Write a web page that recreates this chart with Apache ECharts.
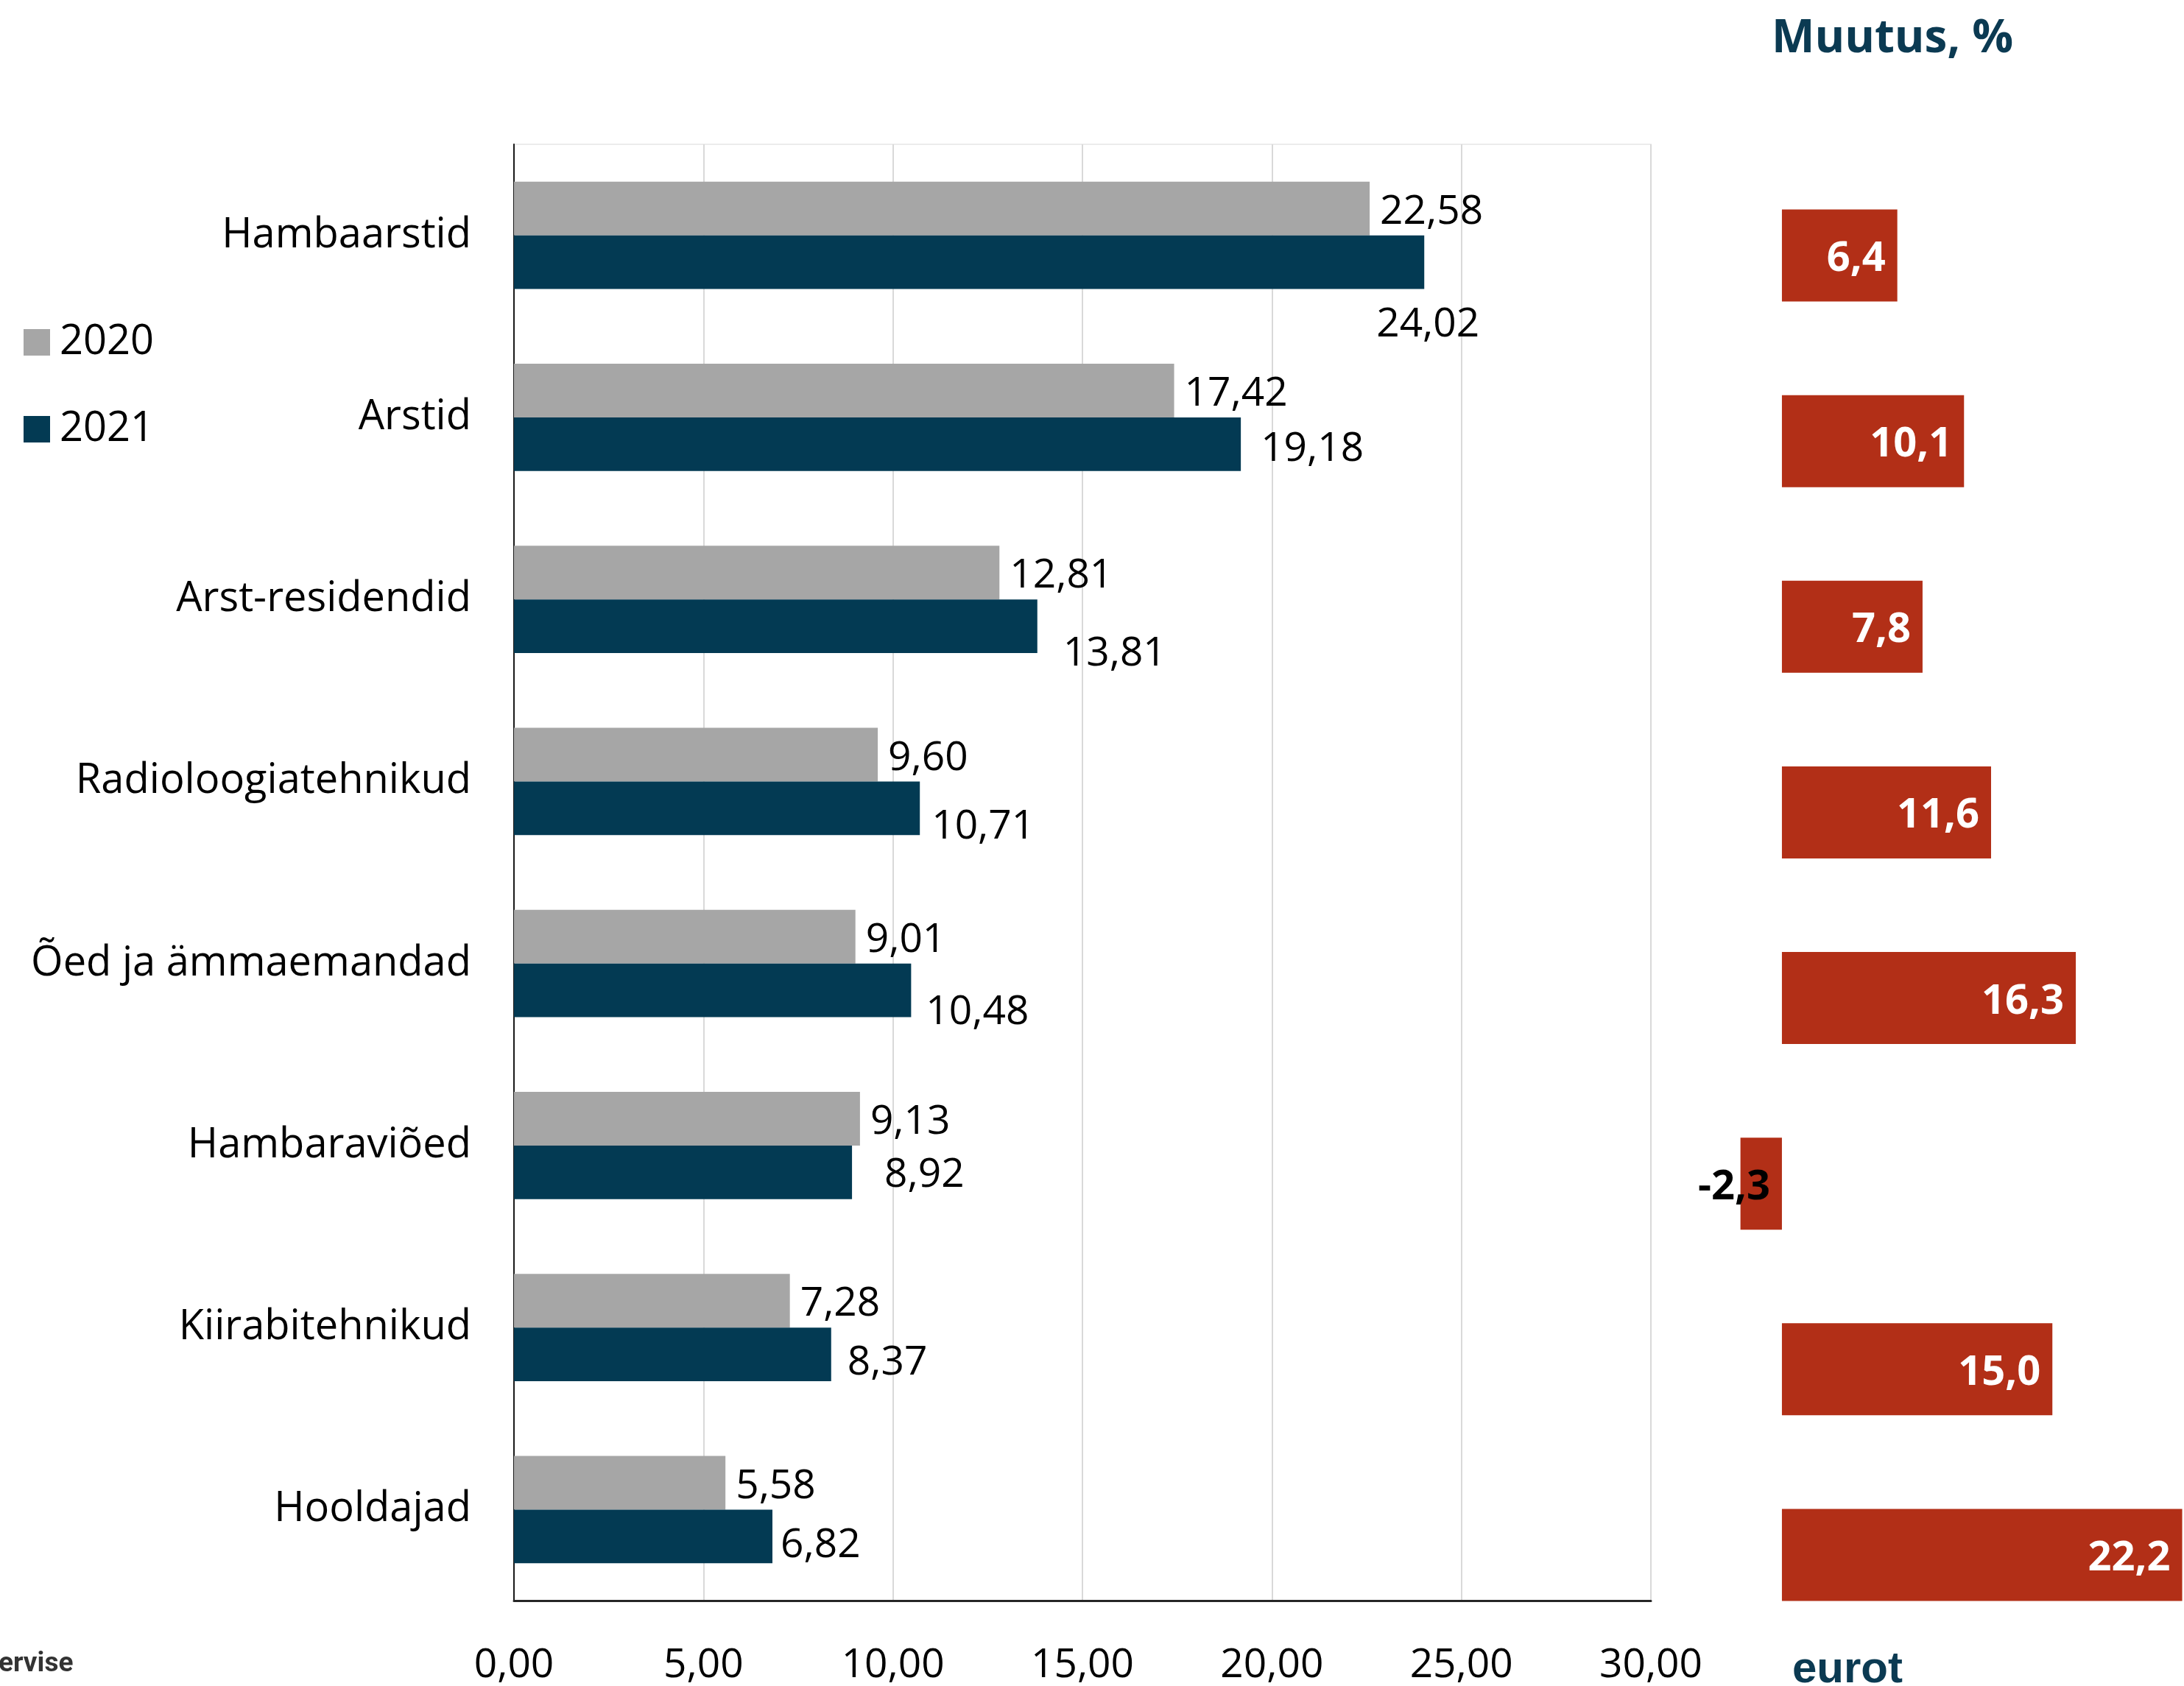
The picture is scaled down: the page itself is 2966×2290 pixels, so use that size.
<!DOCTYPE html>
<html>
<head>
<meta charset="utf-8">
<script src="https://cdn.jsdelivr.net/npm/echarts@6/dist/echarts.min.js"></script>
<style>
html,body{margin:0;padding:0;background:#fff;}
#chart{width:2966px;height:2290px;}
</style>
</head>
<body>
<div id="chart"></div>
<script>
// ---- data ----
const categories = ['Hambaarstid','Arstid','Arst-residendid','Radioloogiatehnikud','Õed ja ämmaemandad','Hambaraviõed','Kiirabitehnikud','Hooldajad'];
const seriesNames = ['2020','2021'];
const values2020 = [22.58,17.42,12.81,9.60,9.01,9.13,7.28,5.58];
const values2021 = [24.02,19.18,13.81,10.71,10.48,8.92,8.37,6.82];
const changePct = [6.4,10.1,7.8,11.6,16.3,-2.3,15.0,22.2];
const xTicks = {min:0, max:30, interval:5};

// ---- styling (label nudges for 2021 labels, px) ----
const labelNudge2021 = [[-79,85],[13,7],[21,38],[2,25],[6,30],[30,4],[8,12],[-3,12]];

const GRAY = '#a6a6a6', BLUE = '#033a53', RED = '#b22f17', TITLE = '#0b3a52';
const FONT = 'Open Sans';
const fmt2 = v => v.toFixed(2).replace('.', ',');
const fmt1 = v => v.toFixed(1).replace('.', ',');

const chart = echarts.init(document.getElementById('chart'), null, {renderer:'canvas'});
const option = {
  backgroundColor:'#ffffff',
  animation:false,
  textStyle:{fontFamily:FONT},
  title:[
    {text:'Muutus, %', left:2406, top:22, padding:0,
     textStyle:{fontFamily:FONT, fontWeight:'bold', fontSize:62, color:TITLE}},
    {text:'eurot', left:2434, top:2238, padding:0,
     textStyle:{fontFamily:'Liberation Sans', fontWeight:'bold', fontSize:60, color:TITLE}},
    {text:'ervise', left:-2, top:2242, padding:0,
     textStyle:{fontFamily:'Roboto', fontWeight:'bold', fontSize:37, color:'#333333'}}
  ],
  legend:{
    data:seriesNames, orient:'vertical', left:27, top:432,
    itemWidth:36, itemHeight:36, itemGap:62, icon:'rect',
    textStyle:{fontFamily:FONT, fontSize:56, color:'#000', padding:[0,0,0,8]}
  },
  grid:[
    {left:698, right:724, top:196, bottom:111, show:true, borderColor:'#ececec', borderWidth:2},
    {left:2322, right:0, top:221, bottom:52}
  ],
  xAxis:[
    {type:'value', gridIndex:0, min:xTicks.min, max:xTicks.max, interval:xTicks.interval,
     axisLine:{show:true, lineStyle:{color:'#262626', width:3}},
     axisTick:{show:false},
     splitLine:{show:true, lineStyle:{color:'#d9d9d9', width:2}},
     axisLabel:{fontFamily:FONT, fontSize:55, color:'#000', margin:61, formatter:fmt2}},
    {type:'value', gridIndex:1, min:-4, max:22.3, show:false}
  ],
  yAxis:[
    {type:'category', gridIndex:0, data:categories, inverse:true,
     axisLine:{show:true, lineStyle:{color:'#1a1a1a', width:2}},
     axisTick:{show:false},
     axisLabel:{fontFamily:FONT, fontSize:56, color:'#000', margin:58, padding:[8,0,0,0]}},
    {type:'category', gridIndex:1, data:categories, inverse:true, show:false}
  ],
  series:[
    {name:seriesNames[0], type:'bar', xAxisIndex:0, yAxisIndex:0,
     data:values2020, itemStyle:{color:GRAY}, barGap:'0%', barCategoryGap:'41%',
     label:{show:true, position:'right', distance:14, offset:[0,5], fontFamily:FONT, fontSize:55, color:'#000',
            formatter:p => fmt2(p.value)}},
    {name:seriesNames[1], type:'bar', xAxisIndex:0, yAxisIndex:0,
     data:values2021.map((v,i)=>({value:v, label:{offset:labelNudge2021[i]}})),
     itemStyle:{color:BLUE}, barGap:'0%', barCategoryGap:'41%',
     label:{show:true, position:'right', distance:14, fontFamily:FONT, fontSize:55, color:'#000',
            formatter:p => fmt2(p.value)}},
    {name:'Muutus', type:'bar', xAxisIndex:1, yAxisIndex:1,
     data:changePct.map(v=>({value:v, label:{color: v<0 ? '#000' : '#fff'}})),
     itemStyle:{color:RED}, barCategoryGap:'50.4%',
     label:{show:true, position:'insideRight', distance:16, offset:[0,5], fontFamily:FONT, fontWeight:'bold', fontSize:56,
            formatter:p => fmt1(p.value)}}
  ]
};
chart.setOption(option);
</script>
</body>
</html>
